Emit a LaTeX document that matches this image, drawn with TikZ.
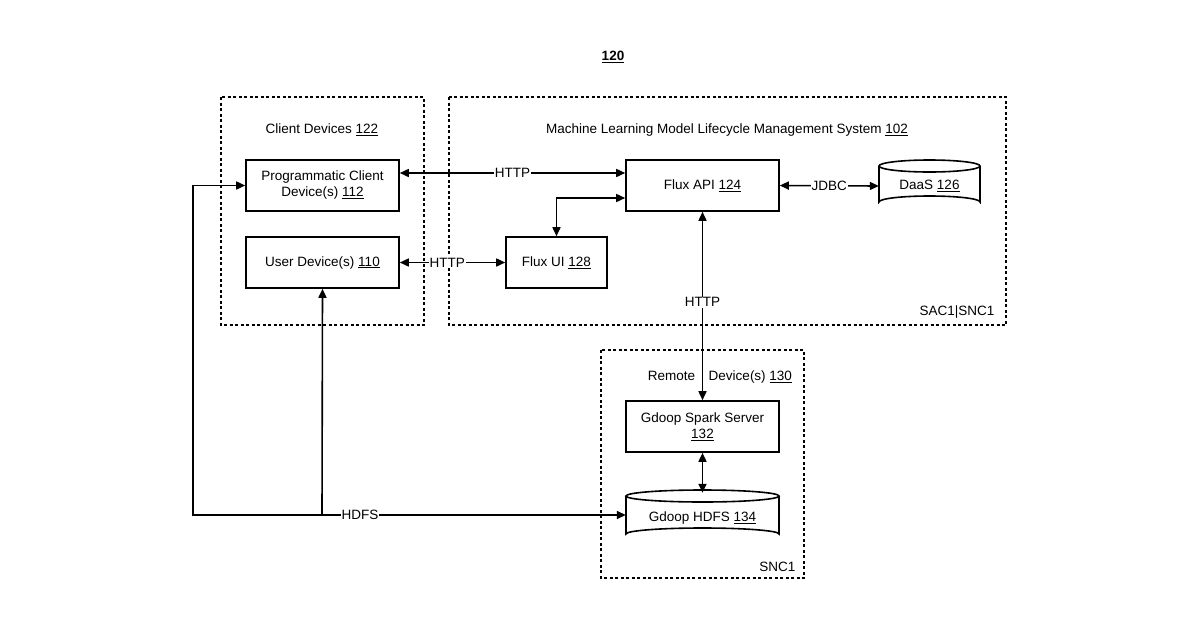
\documentclass[tikz,border=0pt]{standalone}
\usepackage{fontspec}
\setmainfont{Liberation Sans}
\usetikzlibrary{arrows.meta}
\begin{document}
\begin{tikzpicture}[x=1pt,y=-1pt,font=\fontsize{13.5}{16}\selectfont,
 grp/.style={draw,line width=1.6pt,dash pattern=on 3pt off 2.5pt},
 box/.style={draw,line width=1.6pt,align=center,inner sep=0pt},
 con/.style={line width=1.6pt,{Triangle[length=9pt,width=8pt]}-{Triangle[length=9pt,width=8pt]}},
 one/.style={line width=1.6pt,-{Triangle[length=9pt,width=8pt]}},
 lbl/.style={fill=white,inner sep=1pt}]
\useasboundingbox (0,0) rectangle (1200,630);
\node[font=\fontsize{13.5}{16}\selectfont\bfseries] (t) at (613,57) {\underline{120}};
\draw[grp] (221,97) rectangle (424,325);
\draw[grp] (449,97) rectangle (1006,325);
\draw[grp] (601,350) rectangle (804,578);
\node (cl) at (322,130) {Client Devices \underline{122}};
\node (ml) at (727,130) {Machine Learning Model Lifecycle Management System \underline{102}};
\node[anchor=east] (sac) at (998,312) {SAC1|SNC1};
\node (rl) at (720,377) {Remote\quad Device(s) \underline{130}};
\node[anchor=east] (snc) at (799,567) {SNC1};
\node[box,minimum width=153pt,minimum height=51pt] (pc) at (322.5,185.5) {Programmatic Client\\Device(s) \underline{112}};
\node[box,minimum width=153pt,minimum height=51pt] (ud) at (322.5,262.5) {User Device(s) \underline{110}};
\node[box,minimum width=153pt,minimum height=51pt] (fa) at (702.5,185.5) {Flux API \underline{124}};
\node[box,minimum width=101pt,minimum height=51pt] (fu) at (556.5,262.5) {Flux UI \underline{128}};
\node[box,minimum width=153pt,minimum height=51pt] (gs) at (702.5,426.5) {Gdoop Spark Server\\\underline{132}};
% DaaS cylinder
\draw[line width=1.6pt,fill=white] (879,166) -- (879,202) arc[start angle=180,end angle=360,x radius=50.5,y radius=6] -- (980,166);
\draw[line width=1.6pt] (929.5,166) ellipse[x radius=50.5,y radius=6];
\node[inner sep=0pt,minimum width=101pt,minimum height=48pt] (da) at (929.5,186) {DaaS \underline{126}};
% HDFS cylinder
\draw[line width=1.6pt,fill=white] (626,496) -- (626,534) arc[start angle=180,end angle=360,x radius=76.5,y radius=6] -- (779,496);
\draw[line width=1.6pt] (702.5,496) ellipse[x radius=76.5,y radius=6];
\node[inner sep=0pt,minimum width=153pt,minimum height=50pt] (hd) at (702.5,518) {Gdoop HDFS \underline{134}};
% connectors
\draw[con] (pc.east|-0,173) -- node[lbl]{HTTP} (fa.west|-0,173);
\draw[con] (fa.east) -- node[lbl]{JDBC} (da.west);
\draw[con] (ud.east) -- node[lbl,pos=0.45]{HTTP} (fu.west);
\draw[con] (fu.north) |- (fa.west|-0,198);
\draw[con] (fa.south) -- node[lbl,pos=0.48]{HTTP} (gs.north);
\draw[con] (gs.south) -- (hd.north);
\coordinate (c1) at (193,515);
\coordinate (c2) at (322,515);
\draw[con] (pc.west) -| (c1) -- (hd.west|-c1);
\draw[one] (c2) -- (ud.south);
\node[lbl] (hl) at (360,515) {HDFS};
\end{tikzpicture}
\end{document}
